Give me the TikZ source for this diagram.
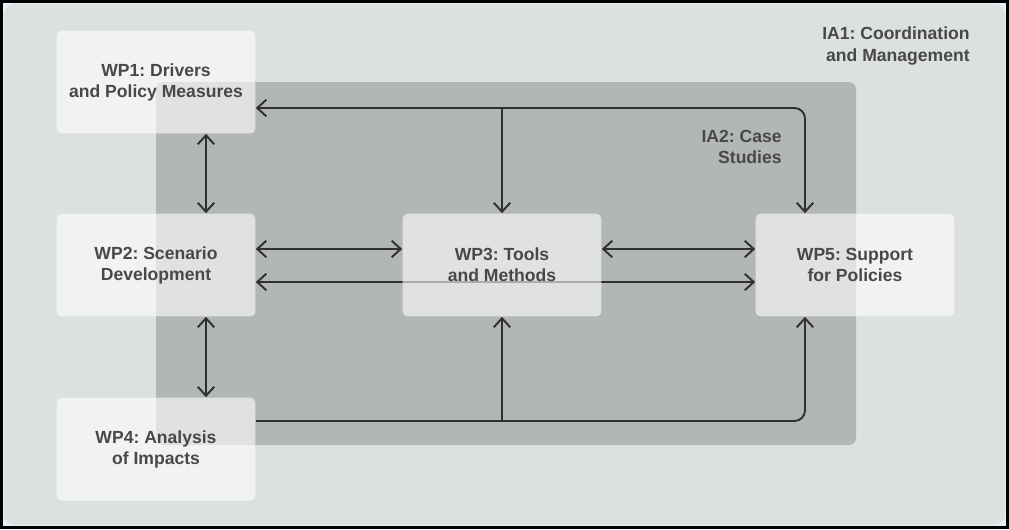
\documentclass[tikz,border=0pt]{standalone}
\usepackage{fontspec}
\setmainfont{Liberation Sans}
\frenchspacing
\usetikzlibrary{arrows.meta}
\usetikzlibrary{backgrounds}
\usetikzlibrary{calc}
\usetikzlibrary{positioning}
\definecolor{panelgray}{HTML}{DDE0E0}
\definecolor{casegray}{HTML}{B3B6B6}
\definecolor{textgray}{HTML}{484848}
\definecolor{linegray}{HTML}{303030}
\definecolor{edgeblue}{HTML}{E8EEF8}
\tikzset{
  wpbox/.style={rectangle, rounded corners=3pt, fill=white, fill opacity=0.6, text opacity=1,
    text=textgray, font=\bfseries, align=center, minimum width=3.98cm, minimum height=2.06cm, inner sep=0pt},
  arealabel/.style={text=textgray, font=\bfseries, align=right, anchor=east, inner sep=0pt},
  link/.style={draw=linegray, line width=1.1pt}
}

\begin{document}
\begin{tikzpicture}[x=0.02cm, y=-0.02cm, >={Straight Barb[length=1.8mm,width=3.3mm]}]
      \useasboundingbox (0,0) rectangle (1009,529);

      % work packages
      \node[wpbox] (wp1) at (156, 82)  {WP1: Drivers\\and Policy Measures};
      \node[wpbox] (wp2) at (156, 265) {WP2: Scenario\\Development};
      \node[wpbox] (wp4) at (156, 449) {WP4: Analysis\\of Impacts};
      \node[wpbox] (wp3) at (502, 265) {WP3: Tools\\and Methods};
      \node[wpbox] (wp5) at (855, 265) {WP5: Support\\for Policies};

      % areas
      \node[arealabel] (ia1) at (970, 46)  {IA1: Coordination\\and Management};
      \node[arealabel] (ia2) at (782, 147) {IA2: Case\\Studies};

      \begin{scope}[on background layer]
        \fill[black] (0,0) rectangle (1009,529);
        \fill[edgeblue] (3,3) rectangle (1006,526);
        \fill[panelgray, rounded corners=6pt] (4,4) rectangle (1005,525);
        \fill[casegray, rounded corners=4pt] (156,82) rectangle (856,445);

        % top line: WP1 -> WP3, WP5
        \coordinate (top) at ($(wp1.east)+(0,26)$);
        \draw[link,<->,rounded corners=6pt] (top) -| ($(wp5.north)+(-50,0)$);
        \draw[link,->] (top -| wp3.north) -- (wp3.north);

        % middle
        \draw[link,<->] ($(wp1.south)+(50,0)$) -- ($(wp2.north)+(50,0)$);
        \draw[link,<->] ($(wp2.east)+(0,-16)$) -- ($(wp3.west)+(0,-16)$);
        \draw[link,<->] ($(wp3.east)+(0,-16)$) -- ($(wp5.west)+(0,-16)$);
        \draw[link,<->] ($(wp2.east)+(0,17)$) -- ($(wp5.west)+(0,17)$);
        \draw[link,<->] ($(wp2.south)+(50,0)$) -- ($(wp4.north)+(50,0)$);

        % bottom line: WP4 -> WP3, WP5
        \coordinate (bottom) at ($(wp4.east)+(0,-28)$);
        \draw[link,->,rounded corners=6pt] (bottom) -| ($(wp5.south)+(-50,0)$);
        \draw[link,->] (bottom -| wp3.south) -- (wp3.south);
      \end{scope}
\end{tikzpicture}
\end{document}
